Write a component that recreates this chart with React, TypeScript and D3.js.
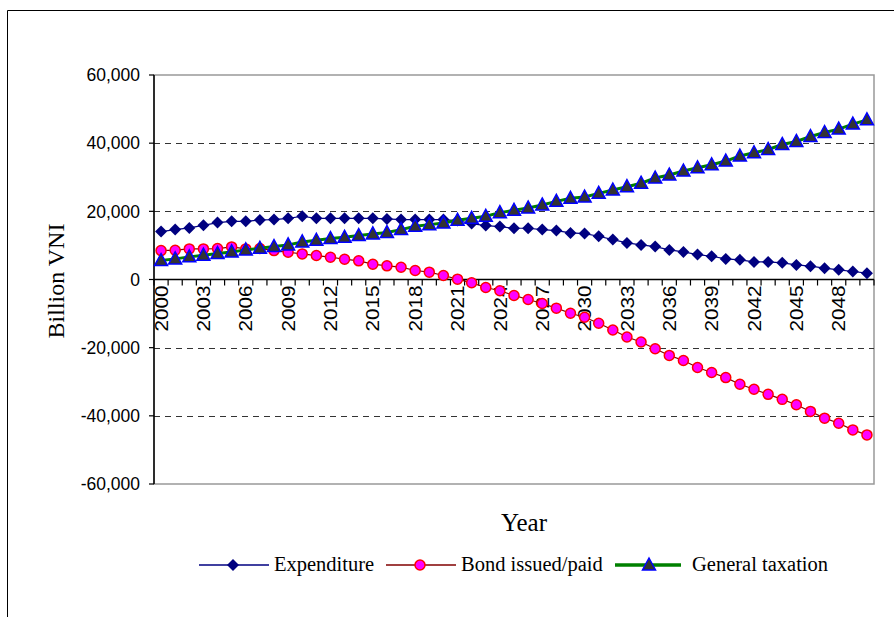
import React from "react";
import * as d3 from "d3";

const years = [
  2000, 2001, 2002, 2003, 2004, 2005, 2006, 2007, 2008, 2009,
  2010, 2011, 2012, 2013, 2014, 2015, 2016, 2017, 2018, 2019,
  2020, 2021, 2022, 2023, 2024, 2025, 2026, 2027, 2028, 2029,
  2030, 2031, 2032, 2033, 2034, 2035, 2036, 2037, 2038, 2039,
  2040, 2041, 2042, 2043, 2044, 2045, 2046, 2047, 2048, 2049, 2050,
];

const expenditure = [
  14050, 14640, 15130, 15900, 16690, 17080, 17080, 17470, 17570, 17960,
  18550, 17960, 17960, 17960, 17960, 17960, 17770, 17570, 17570, 17570,
  17570, 17280, 16400, 15810, 15520, 15030, 15030, 14640, 14350, 13670,
  13470, 12690, 11710, 10740, 10150, 9660, 8690, 8100, 7320, 6830,
  6050, 5760, 5170, 5170, 4880, 4290, 3900, 3320, 2830, 2340, 1850,
];

const bond = [
  8490, 8590, 8980, 8980, 9080, 9570, 8980, 9080, 8490, 8000,
  7510, 7030, 6540, 5950, 5470, 4490, 4000, 3610, 2640, 2150,
  1170, 100, -970, -2340, -3310, -4680, -5860, -7030, -8400, -9890,
  -11060, -12820, -14810, -16860, -18350, -20320, -22280, -23750, -25820, -27290,
  -28780, -30740, -32210, -33700, -35170, -36750, -38710, -40680, -42160, -44120, -45590,
];

const taxation = [
  5560, 6050, 6640, 7130, 7610, 8100, 8690, 9170, 9660, 10150,
  11030, 11520, 12010, 12390, 12880, 13380, 13770, 14640, 15620, 16100,
  16600, 17370, 17960, 18550, 19620, 20300, 20990, 21870, 22930, 23810,
  24210, 25270, 26260, 27230, 28250, 29780, 30660, 31830, 32790, 33670,
  34750, 36220, 37190, 38150, 39620, 40500, 41960, 43130, 44120, 45590, 46850,
];

const yTicks = [60000, 40000, 20000, 0, -20000, -40000, -60000];
const yTickLabels = ["60,000", "40,000", "20,000", "0", "-20,000", "-40,000", "-60,000"];
const gridValues = [40000, 20000, -20000, -40000];
const xLabelYears = [2000, 2003, 2006, 2009, 2012, 2015, 2018, 2021, 2024, 2027, 2030, 2033, 2036, 2039, 2042, 2045, 2048];
const legendLabels = ["Expenditure", "Bond issued/paid", "General taxation"];

const W = 894;
const H = 617;
const left = 154;
const right = 874;
const top = 75;
const bottom = 484;

const SERIF = "'Liberation Serif', 'Times New Roman', serif";
const SANS = "'Liberation Sans', Arial, sans-serif";

function Diamond({ x, y }: { x: number; y: number }) {
  const s = 6;
  return <path d={`M${x},${y - s}L${x + s},${y}L${x},${y + s}L${x - s},${y}Z`} fill="#000080" />;
}
function Circle({ x, y }: { x: number; y: number }) {
  return <circle cx={x} cy={y} r={5} fill="#FF00FF" stroke="#FF0000" strokeWidth={1.5} />;
}
function Tri({ x, y }: { x: number; y: number }) {
  const w = 6.5;
  return (
    <path
      d={`M${x},${y - 7}L${x + w},${y + 5}L${x - w},${y + 5}Z`}
      fill="#333333"
      stroke="#0000FF"
      strokeWidth={1.5}
      strokeLinejoin="miter"
    />
  );
}

export default function App() {
  const x = d3.scalePoint<number>().domain(years).range([left, right]).padding(0.5);
  const step = x.step();
  const y = d3.scaleLinear().domain([-60000, 60000]).range([bottom, top]);

  const line = d3
    .line<number>()
    .x((_, i) => x(years[i]) as number)
    .y((d) => y(d));

  const tickXs = d3.range(years.length + 1).map((i) => left + i * step);

  const legendY = 565;

  return (
    <svg
      width={W}
      height={H}
      style={{ position: "absolute", left: 0, top: 0, background: "#fff" }}
    >
      <rect x={0} y={0} width={W} height={H} fill="#fff" />
      {/* outer frame */}
      <line x1={7.5} y1={10.5} x2={W} y2={10.5} stroke="#000" strokeWidth={1} />
      <line x1={7.5} y1={10.5} x2={7.5} y2={H} stroke="#000" strokeWidth={1} />

      {/* plot border */}
      <rect x={left} y={top} width={right - left} height={bottom - top} fill="none" stroke="#999" strokeWidth={1.5} />

      {/* gridlines */}
      {gridValues.map((v) => (
        <line
          key={v}
          x1={left}
          x2={right}
          y1={Math.round(y(v)) + 0.5}
          y2={Math.round(y(v)) + 0.5}
          stroke="#333"
          strokeWidth={1}
          strokeDasharray="6,5"
        />
      ))}

      {/* y axis */}
      <line x1={left} x2={left} y1={top} y2={bottom} stroke="#000" strokeWidth={1.5} />
      {yTicks.map((v, i) => (
        <g key={v}>
          <line x1={left - 5} x2={left} y1={y(v)} y2={y(v)} stroke="#000" strokeWidth={1.2} />
          <text
            x={left - 14}
            y={y(v)}
            dy="0.36em"
            textAnchor="end"
            fontFamily={SANS}
            fontSize={17.5}
            fill="#000"
          >
            {yTickLabels[i]}
          </text>
        </g>
      ))}

      {/* x axis at zero */}
      <line x1={left} x2={right} y1={y(0)} y2={y(0)} stroke="#000" strokeWidth={1.5} />
      {tickXs.map((tx, i) => (
        <line key={i} x1={tx} x2={tx} y1={y(0)} y2={y(0) + 6} stroke="#000" strokeWidth={1.2} />
      ))}
      {xLabelYears.map((yr) => (
        <text
          key={yr}
          transform={`translate(${x(yr)},${y(0) + 6}) rotate(-90) scale(1.12,1)`}
          textAnchor="end"
          dy="0.36em"
          fontFamily={SANS}
          fontSize={18.5}
          fill="#000"
        >
          {String(yr)}
        </text>
      ))}

      {/* series: expenditure */}
      <path d={line(expenditure) || ""} fill="none" stroke="#000080" strokeWidth={1.2} />
      {expenditure.map((v, i) => (
        <Diamond key={i} x={x(years[i]) as number} y={y(v)} />
      ))}

      {/* bond */}
      <path d={line(bond) || ""} fill="none" stroke="#800000" strokeWidth={1.2} />
      {bond.map((v, i) => (
        <Circle key={i} x={x(years[i]) as number} y={y(v)} />
      ))}

      {/* taxation */}
      <path d={line(taxation) || ""} fill="none" stroke="#008000" strokeWidth={3} />
      {taxation.map((v, i) => (
        <Tri key={i} x={x(years[i]) as number} y={y(v)} />
      ))}

      {/* axis titles */}
      <text
        transform={`translate(64,281) rotate(-90)`}
        textAnchor="middle"
        fontFamily={SERIF}
        fontSize={24}
        fill="#000"
      >
        Billion VNI
      </text>
      <text x={524} y={531} textAnchor="middle" fontFamily={SERIF} fontSize={25} fill="#000">
        Year
      </text>

      {/* legend */}
      <g>
        <line x1={199} x2={269} y1={legendY} y2={legendY} stroke="#000080" strokeWidth={1.4} />
        <Diamond x={233} y={legendY} />
        <text x={274} y={legendY + 6} fontFamily={SERIF} fontSize={20.5} fill="#000">
          {legendLabels[0]}
        </text>

        <line x1={386} x2={456} y1={legendY} y2={legendY} stroke="#800000" strokeWidth={1.4} />
        <Circle x={420} y={legendY} />
        <text x={461} y={legendY + 6} fontFamily={SERIF} fontSize={20.5} fill="#000">
          {legendLabels[1]}
        </text>

        <line x1={615} x2={681} y1={legendY} y2={legendY} stroke="#008000" strokeWidth={3.5} />
        <Tri x={649} y={legendY} />
        <text x={692} y={legendY + 6} fontFamily={SERIF} fontSize={20.5} fill="#000">
          {legendLabels[2]}
        </text>
      </g>
    </svg>
  );
}
